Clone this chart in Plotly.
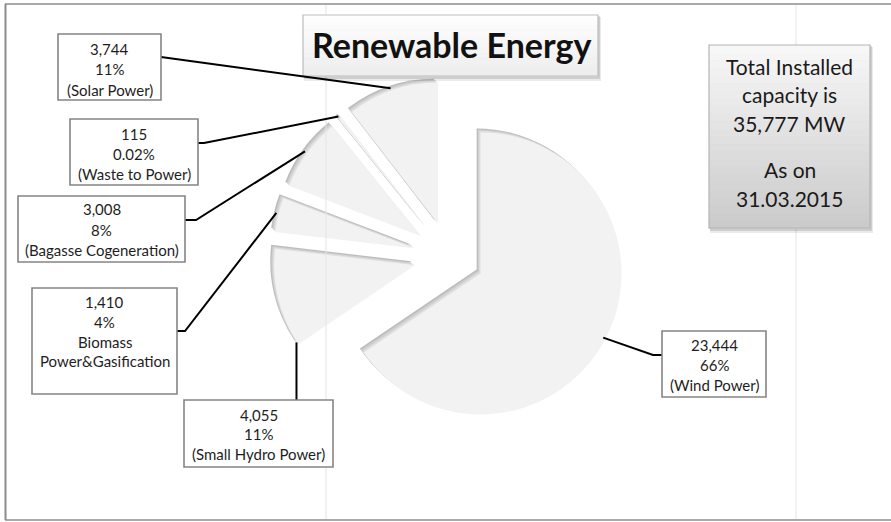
import math
import plotly.graph_objects as go

# ---------------- data ----------------
categories = ["Wind Power", "Small Hydro Power", "Biomass Power&Gasification",
              "Bagasse Cogeneration", "Waste to Power", "Solar Power"]
capacity_mw = [23444, 4055, 1410, 3008, 115, 3744]
percent_labels = ["66%", "11%", "4%", "8%", "0.02%", "11%"]
name_labels = ["(Wind Power)", "(Small Hydro Power)", "Biomass<br>Power&Gasification",
               "(Bagasse Cogeneration)", "(Waste to Power)", "(Solar Power)"]
title_text = "Renewable Energy"
total_text_lines = ["Total Installed", "capacity is", "35,777 MW", "As on", "31.03.2015"]

# ---------------- layout helpers ----------------
W, H = 891, 522
FONT = "Lato"
PULL = 0.25


def X(px):
    return px / W


def Y(py):
    return 1 - py / H


def hexmix(c1, c2, t):
    a = [int(c1[i:i + 2], 16) for i in (1, 3, 5)]
    b = [int(c2[i:i + 2], 16) for i in (1, 3, 5)]
    return "#" + "".join(f"{round(a[k] + (b[k] - a[k]) * t):02x}" for k in range(3))


# pie placement (pixels); stacked copies give a soft inner shadow
PCX, PCY, HALF = 445.5, 253.0, 176.25
layers = [(0, "#bdbdbd"), (1.3, "#cfcfcf"), (2.6, "#dfdfdf"), (3.9, "#f2f2f2")]

fig = go.Figure()
for off, col in layers:
    cx, cy = PCX + off, PCY + off
    fig.add_trace(go.Pie(
        labels=categories, values=capacity_mw, sort=False, direction="clockwise",
        rotation=0, pull=[PULL] * len(capacity_mw), textinfo="none",
        hoverinfo="label+value+percent", showlegend=False,
        marker=dict(colors=[col] * len(capacity_mw), line=dict(width=0)),
        domain=dict(x=[X(cx - HALF), X(cx + HALF)], y=[Y(cy + HALF), Y(cy - HALF)]),
    ))

# geometry (mirrors plotly's pie scaling) used to attach leader lines
r = HALF / (1 + PULL)
gcx, gcy = PCX + 2, PCY + 2
total = sum(capacity_mw)
anchor_frac = [0.5, 0.0, 0.5, 0.5, 0.5, 0.5]
anchors = []
cum = 0.0
for v, f in zip(capacity_mw, anchor_frac):
    a0 = cum / total * 2 * math.pi
    a1 = (cum + v) / total * 2 * math.pi
    am = (a0 + a1) / 2
    th = a0 + (a1 - a0) * f
    ox = gcx + PULL * r * math.sin(am)
    oy = gcy - PULL * r * math.cos(am)
    anchors.append((ox + r * math.sin(th), oy - r * math.cos(th)))
    cum += v

shapes = []
annotations = []

# spreadsheet gridlines & frame
for gx in (326, 796):
    shapes.append(dict(type="line", xref="paper", yref="paper", x0=X(gx), x1=X(gx),
                       y0=Y(5), y1=Y(519), line=dict(color="#e4e4e4", width=1), layer="above"))
shapes.append(dict(type="line", xref="paper", yref="paper", x0=X(5), x1=X(895),
                   y0=Y(4), y1=Y(4), line=dict(color="#8c8c8c", width=1.5), layer="above"))
shapes.append(dict(type="line", xref="paper", yref="paper", x0=X(5), x1=X(895),
                   y0=Y(520), y1=Y(520), line=dict(color="#8c8c8c", width=1.5), layer="above"))
shapes.append(dict(type="line", xref="paper", yref="paper", x0=X(5.5), x1=X(5.5),
                   y0=Y(4), y1=Y(520), line=dict(color="#8c8c8c", width=2), layer="above"))


def rect(x0, y0, x1, y1, fill, line_color=None, lw=0):
    shapes.append(dict(type="rect", xref="paper", yref="paper", x0=X(x0), x1=X(x1),
                       y0=Y(y1), y1=Y(y0), fillcolor=fill,
                       line=dict(color=line_color or "rgba(0,0,0,0)", width=lw), layer="above"))


def gradient_box(x0, y0, x1, y1, ctop, cbot, border, n=24):
    # soft shadow
    rect(x0 + 1, y0 + 2, x1 + 3, y1 + 5, "rgba(0,0,0,0.08)")
    rect(x0 + 1, y0 + 1, x1 + 2, y1 + 3, "rgba(0,0,0,0.12)")
    h = (y1 - y0) / n
    for k in range(n):
        rect(x0, y0 + k * h, x1, y0 + (k + 1) * h + 0.6, hexmix(ctop, cbot, k / (n - 1)))
    rect(x0, y0, x1, y1, "rgba(0,0,0,0)", border, 1.2)


# title box
gradient_box(303, 15, 598, 76, "#fefefe", "#ededed", "#bdbdbd")
annotations.append(dict(xref="paper", yref="paper", x=X(451), y=Y(44), text=f"<b>{title_text}</b>",
                        showarrow=False, font=dict(family=FONT, size=34, color="#111111"),
                        xanchor="center", yanchor="middle"))

# total box
gradient_box(709, 45, 870, 228, "#f7f7f7", "#cbcbcb", "#b5b5b5")
for txt, ly in zip(total_text_lines, [67, 95, 123, 170, 198]):
    annotations.append(dict(xref="paper", yref="paper", x=X(789.5), y=Y(ly), text=txt,
                            showarrow=False, font=dict(family=FONT, size=21, color="#1a1a1a"),
                            xanchor="center", yanchor="middle"))

# data label boxes
label_boxes = [
    dict(box=(662, 331, 766, 397), lines=[345, 365, 385], pts=[(662, 355), (653, 355)]),
    dict(box=(184, 400, 333, 467), lines=[415, 434, 454], pts=[(None, 400)]),
    dict(box=(32, 288, 177, 394), lines=[302, 322, 342, 361], pts=[(177, 331), (185, 331)]),
    dict(box=(18, 196, 185, 262), lines=[209, 230, 250], pts=[(185, 220), (196, 220)]),
    dict(box=(70, 119, 198, 185), lines=[134, 154, 174], pts=[(198, 143), (204, 143)]),
    dict(box=(58, 34, 161, 100), lines=[49, 69, 90], pts=[(161, 57)]),
]

for i, spec in enumerate(label_boxes):
    ax, ay = anchors[i]
    pts = [(ax if px is None else px, py) for px, py in spec["pts"]] + [(ax, ay)]
    path = "M " + " L ".join(f"{X(px):.5f},{Y(py):.5f}" for px, py in pts)
    shapes.append(dict(type="path", xref="paper", yref="paper", path=path,
                       line=dict(color="#000000", width=2), layer="above"))
    x0, y0, x1, y1 = spec["box"]
    rect(x0, y0, x1, y1, "#ffffff", "#858585", 1.6)
    texts = [f"{capacity_mw[i]:,}", percent_labels[i]] + name_labels[i].split("<br>")
    for txt, ly in zip(texts, spec["lines"]):
        annotations.append(dict(xref="paper", yref="paper", x=X((x0 + x1) / 2), y=Y(ly), text=txt,
                                showarrow=False, font=dict(family=FONT, size=15, color="#1e1e1e"),
                                xanchor="center", yanchor="middle"))

fig.update_layout(
    width=W, height=H, margin=dict(l=0, r=0, t=0, b=0),
    paper_bgcolor="#ffffff", plot_bgcolor="#ffffff",
    shapes=shapes, annotations=annotations, showlegend=False,
    font=dict(family=FONT),
)

fig.write_html("out.html", config={"displayModeBar": False},
               post_script="document.body.style.margin='0';document.body.style.overflow='hidden';")
